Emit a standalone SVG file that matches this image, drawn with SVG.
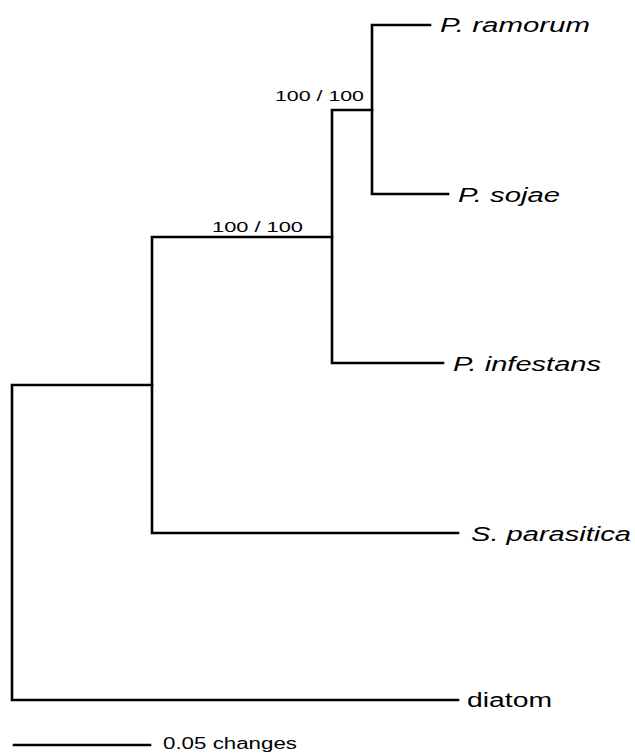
<svg xmlns="http://www.w3.org/2000/svg" width="635" height="753" viewBox="0 0 635 753">
<style>
.br{fill:none;stroke:#000;stroke-width:2.6;stroke-linecap:square;stroke-linejoin:miter}
.tax{font-family:"Liberation Sans",Arial,sans-serif;font-size:20px;font-style:italic;fill:#000}
.plain{font-family:"Liberation Sans",Arial,sans-serif;font-size:20px;fill:#000}
.sup{font-family:"Liberation Sans",Arial,sans-serif;font-size:15px;fill:#000}
.sc{font-family:"Liberation Sans",Arial,sans-serif;font-size:16px;fill:#000}
</style>
<rect width="635" height="753" fill="#fff"/>
<g id="connectors">
  <path class="br" d="M152,385 H12 V700 H458"/>
  <path class="br" d="M332,237 H152 V533 H458"/>
  <path class="br" d="M372,110 H332 V363 H443"/>
  <path class="br" d="M430,25 H372 V194 H448"/>
</g>
<g id="P_ramorum"><text class="tax" x="440" y="32" textLength="150" lengthAdjust="spacingAndGlyphs">P. ramorum</text></g>
<g id="P_sojae"><text class="tax" x="458" y="202" textLength="102" lengthAdjust="spacingAndGlyphs">P. sojae</text></g>
<g id="P_infestans"><text class="tax" x="453" y="371" textLength="148" lengthAdjust="spacingAndGlyphs">P. infestans</text></g>
<g id="S_parasitica"><text class="tax" x="471" y="541" textLength="160" lengthAdjust="spacingAndGlyphs">S. parasitica</text></g>
<g id="diatom"><text class="plain" x="467" y="707" textLength="85" lengthAdjust="spacingAndGlyphs">diatom</text></g>
<g id="support_phyto"><text class="sup" x="275" y="101" textLength="89" lengthAdjust="spacingAndGlyphs">100 / 100</text></g>
<g id="support_oomycete"><text class="sup" x="212" y="232" textLength="91" lengthAdjust="spacingAndGlyphs">100 / 100</text></g>
<g id="scale_bar">
  <line class="br" x1="14" y1="745" x2="150" y2="745"/>
  <text class="sc" x="163" y="749" textLength="134" lengthAdjust="spacingAndGlyphs">0.05 changes</text>
</g>
</svg>
